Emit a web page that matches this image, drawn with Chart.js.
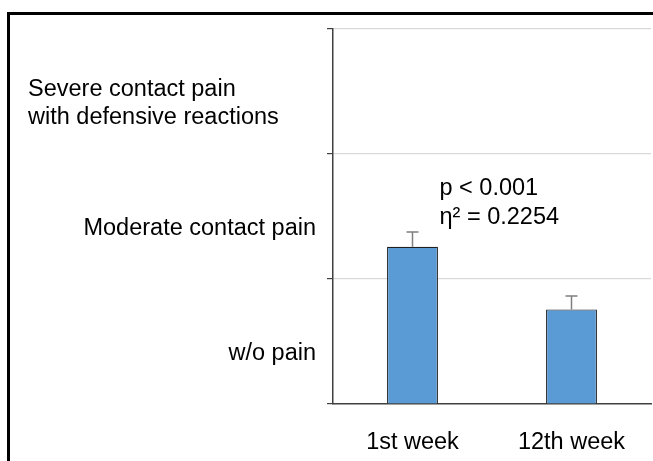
<!DOCTYPE html>
<html>
<head>
<meta charset="utf-8">
<script src="https://cdn.jsdelivr.net/npm/chart.js@4.4.1/dist/chart.umd.min.js"></script>
<style>
  html, body { margin: 0; padding: 0; background: #fff; }
  #wrap { width: 653px; height: 461px; position: relative; }
</style>
</head>
<body>
<div id="wrap"><canvas id="douleur"></canvas></div>
<script>
// donnees
let semaines = ['1st week', '12th week'];
let moyennes = [1.258, 0.757];
let erreurs = [0.118, 0.107];
let niveaux = ['w/o pain', 'Moderate contact pain', ['Severe contact pain', 'with defensive reactions']];
let stats = ['p < 0.001', 'η² = 0.2254'];

let police = '"Liberation Sans", Arial, sans-serif';
let taille = 23.5;

// cadre noir autour de la figure
const cadre = {
    id: 'cadre',
    beforeDraw(chart) {
        const c = chart.ctx;
        c.save();
        c.strokeStyle = '#000';
        c.lineWidth = 3;
        c.beginPath();
        c.moveTo(8.5, 461);
        c.lineTo(8.5, 13.5);
        c.lineTo(653, 13.5);
        c.stroke();
        c.restore();
    }
};

// niveaux de douleur a gauche de l'axe
const etiquettes = {
    id: 'etiquettes',
    afterDraw(chart) {
        const c = chart.ctx;
        const y = chart.scales.y;
        c.save();
        c.fillStyle = '#000';
        c.font = taille + 'px ' + police;
        c.textBaseline = 'middle';
        niveaux.forEach((txt, i) => {
            const py = y.getPixelForValue(i + 0.4);
            if (Array.isArray(txt)) {
                c.textAlign = 'left';
                c.fillText(txt[0], 28, py - 14);
                c.fillText(txt[1], 28, py + 14);
            } else {
                c.textAlign = 'right';
                c.fillText(txt, 316, py);
            }
        });
        // statistiques
        const x0 = chart.scales.x.getPixelForValue(0);
        c.textAlign = 'left';
        c.fillText(stats[0], x0 + 27, y.getPixelForValue(1.725));
        c.fillText(stats[1], x0 + 27, y.getPixelForValue(1.49));
        c.restore();
    }
};

// barres d'erreur
const erreurBarres = {
    id: 'erreurBarres',
    afterDatasetsDraw(chart) {
        const c = chart.ctx;
        const meta = chart.getDatasetMeta(0);
        const y = chart.scales.y;
        c.save();
        c.strokeStyle = '#7f7f7f';
        c.lineWidth = 1.5;
        meta.data.forEach((bar, i) => {
            const top = y.getPixelForValue(moyennes[i] + erreurs[i]);
            const bas = y.getPixelForValue(moyennes[i]);
            c.beginPath();
            c.moveTo(bar.x, bas);
            c.lineTo(bar.x, top);
            c.moveTo(bar.x - 6, top);
            c.lineTo(bar.x + 6, top);
            c.stroke();
        });
        c.restore();
    }
};

let ctx = document.getElementById('douleur').getContext('2d');
new Chart(ctx, {
    type: 'bar',
    data: {
        labels: semaines,
        datasets: [{
            data: moyennes,
            backgroundColor: '#5b9bd5',
            borderColor: '#1f1f1f',
            borderWidth: 1.2,
            borderSkipped: 'bottom',
            categoryPercentage: 1,
            barPercentage: 0.32
        }]
    },
    options: {
        responsive: true,
        maintainAspectRatio: false,
        animation: false,
        layout: { padding: { left: 0, top: 29, right: 2, bottom: 0 } },
        plugins: { legend: { display: false }, tooltip: { enabled: false } },
        scales: {
            x: {
                grid: { display: false },
                border: { display: true, color: '#404040', width: 1.5 },
                ticks: { color: '#000', font: { size: taille, family: police }, padding: 16 },
                afterFit: s => { s.height = 57; }
            },
            y: {
                min: 0,
                max: 3,
                ticks: { stepSize: 1, display: false },
                grid: {
                    color: c => c.tick.value === 0 ? 'rgba(0,0,0,0)' : '#d9d9d9',
                    tickColor: '#404040',
                    tickLength: 6,
                    lineWidth: 1.2
                },
                border: { display: true, color: '#404040', width: 1.5 },
                afterFit: s => { s.width = 333; }
            }
        }
    },
    plugins: [cadre, etiquettes, erreurBarres]
});
</script>
</body>
</html>
